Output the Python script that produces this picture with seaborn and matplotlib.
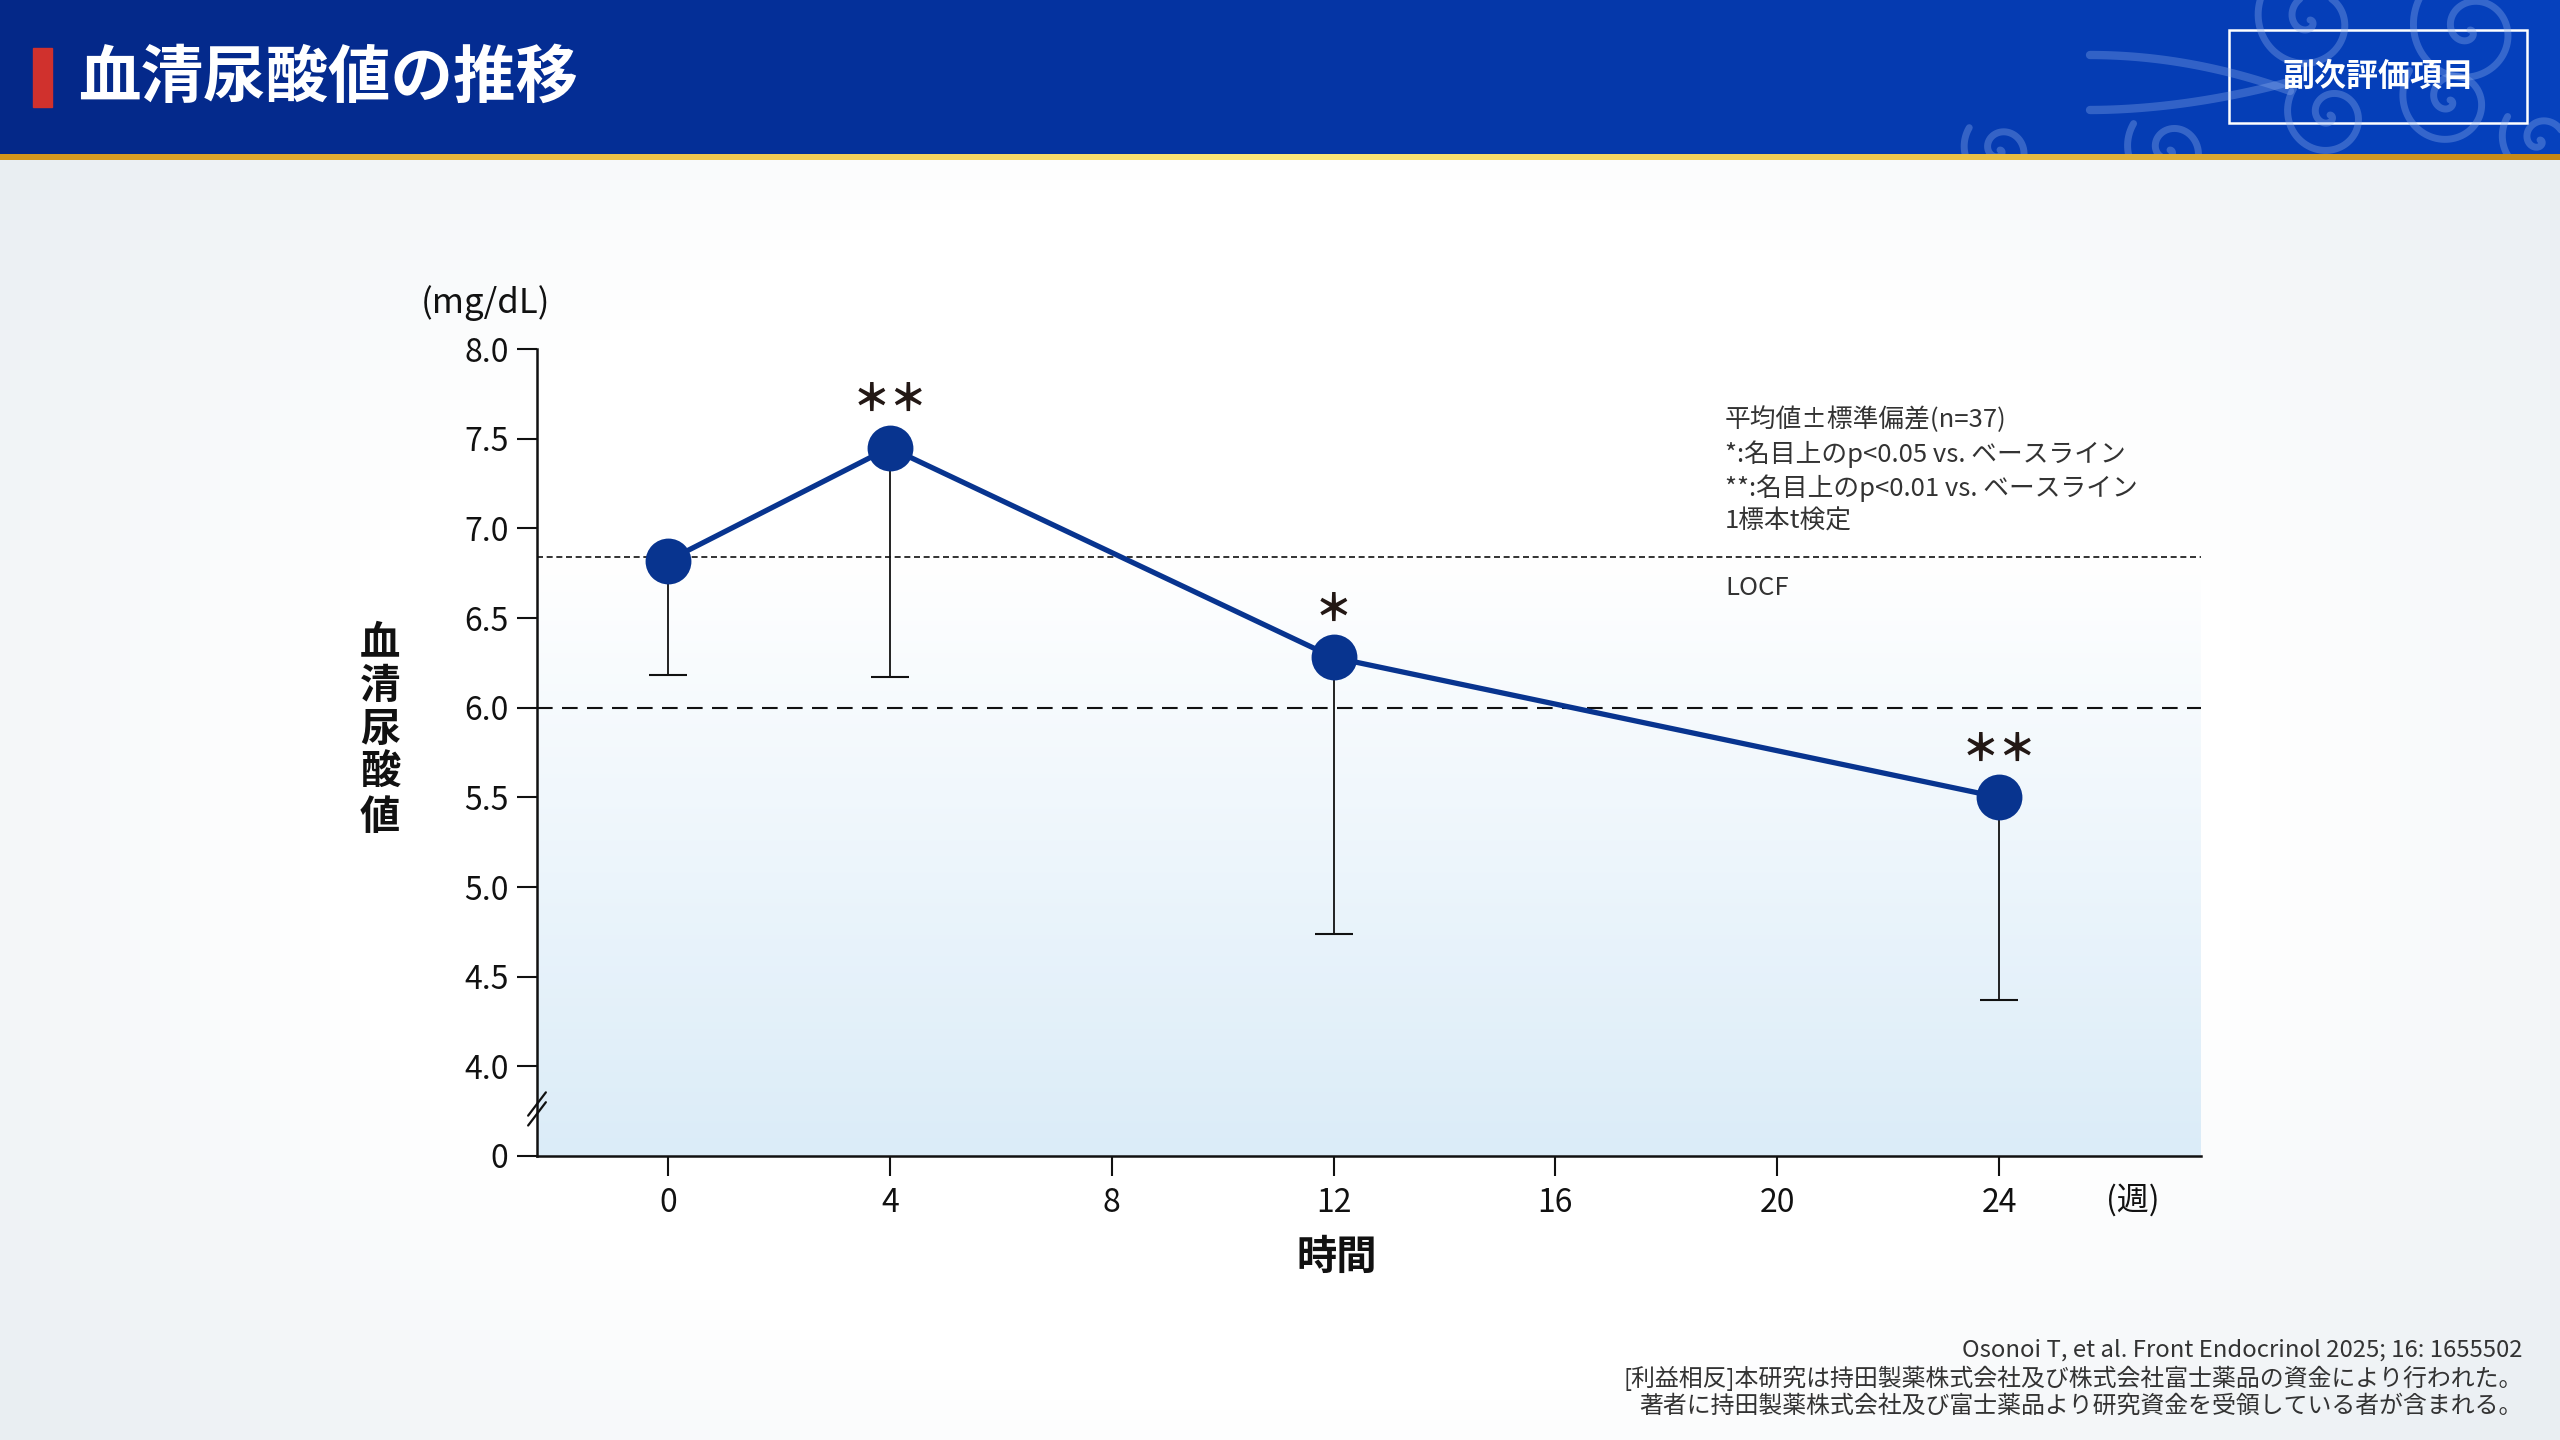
import numpy as np
import pandas as pd
import seaborn as sns
import matplotlib.pyplot as plt
from matplotlib.colors import LinearSegmentedColormap
from matplotlib.patches import Rectangle

# data
weeks = [0, 4, 12, 24]
mean_ua = [6.82, 7.45, 6.28, 5.50]
sd_ua = [0.64, 1.28, 1.54, 1.13]
stars = ["＊＊", "＊", "＊＊"]
star_weeks = [4, 12, 24]
baseline_mean = 6.84
target_line = 6.0

x_ticks = [0, 4, 8, 12, 16, 20, 24]
y_ticks = [3.5, 4.0, 4.5, 5.0, 5.5, 6.0, 6.5, 7.0, 7.5, 8.0]
y_tick_labels = ["0", "4.0", "4.5", "5.0", "5.5", "6.0", "6.5", "7.0", "7.5", "8.0"]

notes = [
    "平均値±標準偏差(n=37)",
    "*:名目上のp<0.05 vs. ベースライン",
    "**:名目上のp<0.01 vs. ベースライン",
    "1標本t検定",
]
footer = [
    "Osonoi T, et al. Front Endocrinol 2025; 16: 1655502",
    "[利益相反]本研究は持田製薬株式会社及び株式会社富士薬品の資金により行われた。",
    "著者に持田製薬株式会社及び富士薬品より研究資金を受領している者が含まれる。",
]

NAVY = "#08348f"
INK = "#111111"
W, H = 2560, 1440

sns.set_theme(style="white")
plt.rcParams["font.family"] = ["Noto Sans CJK JP", "DejaVu Sans"]

fig = plt.figure(figsize=(25.6, 14.4), dpi=100)

# background layer in pixel coords
bg = fig.add_axes([0, 0, 1, 1], zorder=0)
bg.axis("off")

yy, xx = np.mgrid[0:1:144j, 0:1:256j]
r = np.sqrt(((xx - 0.5) / 0.55) ** 2 + ((yy - 0.55) / 0.62) ** 2)
vign = np.clip((r - 0.7) / 0.45, 0, 1)
bg.imshow(vign, extent=[0, W, H, 0], aspect="auto",
          cmap=LinearSegmentedColormap.from_list("v", ["#ffffff", "#e9eef2"]))

head = np.linspace(0, 1, 512).reshape(1, -1)
bg.imshow(head, extent=[0, W, 154, 0], aspect="auto",
          cmap=LinearSegmentedColormap.from_list("h", ["#042888", "#0535a4", "#0641bd"]))

# faint swirl decoration, clipped to the header band
head_clip = Rectangle((0, 0), W, 154, transform=bg.transData)
for cx, cy, rad in [(2310, 20, 55), (2470, 30, 60), (2330, 115, 45), (2450, 100, 50),
                    (2000, 150, 38), (2170, 150, 45), (2540, 140, 40)]:
    t = np.linspace(0, 3.2 * np.pi, 300)
    rr = rad * t / t[-1]
    ln, = bg.plot(cx + rr * np.cos(t), cy + rr * np.sin(t), color="#8fb0ee", alpha=0.35,
                  lw=5, solid_capstyle="round")
    ln.set_clip_path(head_clip)
sx = np.linspace(2090, 2290, 100)
for ys in [55 + 0.0009 * (sx - 2090) ** 2, 110 - 0.0012 * (sx - 2090) ** 1.9]:
    ln, = bg.plot(sx, ys, color="#8fb0ee", alpha=0.33, lw=6)
    ln.set_clip_path(head_clip)

bg.imshow(head, extent=[0, W, 160, 154], aspect="auto",
          cmap=LinearSegmentedColormap.from_list(
              "g", ["#d4961c", "#efc44a", "#fde97c", "#eec64c", "#c48615"]))
bg.set_xlim(0, W)
bg.set_ylim(H, 0)

bg.add_patch(Rectangle((33, 48), 19, 59, color="#d0312d"))
bg.text(78, 78, "血清尿酸値の推移", color="white", fontsize=45, fontweight="bold",
        va="center", ha="left")
bg.add_patch(Rectangle((2229, 30), 298, 93, fill=False, ec="white", lw=1.8))
bg.text(2378, 77, "副次評価項目", color="white", fontsize=23, fontweight="bold",
        va="center", ha="center")

for i, line in enumerate(footer):
    bg.text(2523, 1350 + 28 * i, line, ha="right", va="center", fontsize=17.2, color="#333333")

# main chart
ax = fig.add_axes([537 / W, 1 - 1156 / H, (2201 - 537) / W, (1156 - 349) / H], zorder=2)
ax.set_facecolor("none")
x_lo, x_hi = -2.36, 27.64

fill = np.linspace(0, 1, 256).reshape(-1, 1)
ax.imshow(fill, extent=[x_lo, x_hi, 3.5, baseline_mean], aspect="auto", zorder=0,
          cmap=LinearSegmentedColormap.from_list("f", ["#ffffff", "#dbecf8"]))

ax.axhline(baseline_mean, color=INK, lw=1.2, ls=(0, (3.6, 2.2)), zorder=1)
ax.axhline(target_line, color=INK, lw=1.5, ls=(0, (7.5, 4.5)), zorder=1)

df = pd.DataFrame({"week": weeks, "mean": mean_ua, "sd": sd_ua})
ax.errorbar(df["week"], df["mean"], yerr=[df["sd"], np.zeros(len(df))], fmt="none",
            ecolor=INK, elinewidth=1.3, capsize=13.5, capthick=1.5, zorder=2)
sns.lineplot(data=df, x="week", y="mean", ax=ax, color=NAVY, lw=3.8, marker="o",
             markersize=33, markeredgewidth=0, zorder=3)

for wk, s in zip(star_weeks, stars):
    ax.annotate(s, (wk, df.loc[df["week"] == wk, "mean"].iloc[0]), xytext=(0, 34),
                textcoords="offset points", ha="center", va="center",
                fontsize=27, fontweight="black", color="#231815", zorder=4)

ax.set_xlim(x_lo, x_hi)
ax.set_ylim(3.5, 8.0)
ax.set_xticks(x_ticks)
ax.set_yticks(y_ticks)
ax.set_yticklabels(y_tick_labels)
ax.tick_params(axis="both", direction="out", length=14.5, width=1.5, colors=INK,
               labelsize=23, left=True, bottom=True)
ax.tick_params(axis="y", pad=6)
ax.tick_params(axis="x", pad=8)
for side in ["top", "right"]:
    ax.spines[side].set_visible(False)
for side in ["left", "bottom"]:
    ax.spines[side].set_color(INK)
    ax.spines[side].set_linewidth(1.8)
ax.set_xlabel("")
ax.set_ylabel("")

# axis break marks
for yc in [3.79, 3.735]:
    ax.plot([x_lo - 0.16, x_lo + 0.16], [yc - 0.065, yc + 0.065], color=INK, lw=1.6,
            clip_on=False, zorder=5)

bg.text(485, 303, "(mg/dL)", ha="center", va="center", fontsize=25, color=INK)
bg.text(380, 730, "\n".join("血清尿酸値"), ha="center", va="center", fontsize=29,
        fontweight="bold", color=INK, linespacing=1.08)
bg.text(1337, 1257, "時間", ha="center", va="center", fontsize=29, fontweight="bold",
        color=INK)
bg.text(2133, 1200, "(週)", ha="center", va="center", fontsize=23, color=INK)

# notes drawn on the chart layer so the fill does not hide them
for i, line in enumerate(notes):
    ax.text(1725, 420 + 34 * i, line, ha="left", va="center", fontsize=18.5, color="#333333",
            transform=bg.transData, zorder=6)
ax.text(1725, 588, "LOCF", ha="left", va="center", fontsize=18.5, color="#333333",
        transform=bg.transData, zorder=6)

fig.savefig("out.png", dpi=100)
